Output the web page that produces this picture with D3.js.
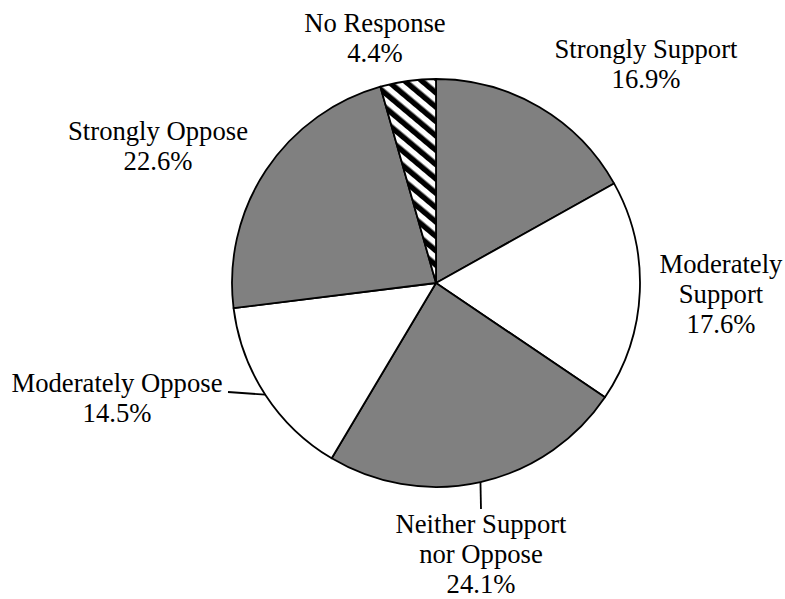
<!DOCTYPE html>
<html>
<head>
<meta charset="utf-8">
<script src="https://cdn.jsdelivr.net/npm/d3@7"></script>
<style>
  html, body { margin: 0; padding: 0; background: #ffffff; }
</style>
</head>
<body>
<svg id="chart" width="785" height="599"></svg>
<script>
// Survey responses, clockwise from 12 o'clock
const categories = ["Strongly Support", "Moderately Support", "Neither Support nor Oppose",
                    "Moderately Oppose", "Strongly Oppose", "No Response"];
const shares = [16.9, 17.6, 24.1, 14.5, 22.6, 4.4];
const labelLines = [["Strongly Support"], ["Moderately", "Support"], ["Neither Support", "nor Oppose"],
                    ["Moderately Oppose"], ["Strongly Oppose"], ["No Response"]];

// Slice fills: alternating grey / white, hatched for non-responses
const fills = ["#808080", "#ffffff", "#808080", "#ffffff", "#808080", "url(#hatch)"];

// Label block placement: centre x, first baseline y
const labelPos = [[646, 58], [721, 273], [481, 533], [117, 392], [158, 140], [375, 32]];
// Leader line ends (null = no leader)
const leaderEnd = [null, null, [481, 509], [228, 392], null, null];

const cx = 436, cy = 283, radius = 204, lineGap = 30;
const fontFamily = "'Liberation Serif', 'Times New Roman', 'DejaVu Serif', serif";

const svg = d3.select("#chart");

const defs = svg.append("defs");
const pat = defs.append("pattern")
  .attr("id", "hatch")
  .attr("patternUnits", "userSpaceOnUse")
  .attr("width", 11).attr("height", 11)
  .attr("patternTransform", "rotate(-50)");
pat.append("rect").attr("width", 11).attr("height", 11).attr("fill", "#fff");
pat.append("rect").attr("width", 5.5).attr("height", 11).attr("fill", "#000");

const pie = d3.pie().sort(null).value(d => d)(shares);
const arc = d3.arc().innerRadius(0).outerRadius(radius);

const g = svg.append("g").attr("transform", `translate(${cx},${cy})`);

g.selectAll("path.slice")
  .data(pie)
  .join("path")
  .attr("class", "slice")
  .attr("d", arc)
  .attr("fill", (d, i) => fills[i])
  .attr("stroke", "#000")
  .attr("stroke-width", 1.8)
  .attr("stroke-linejoin", "round");

// Leader lines from the slice's mid-angle on the rim to the label
const edgeArc = d3.arc().innerRadius(radius).outerRadius(radius);
pie.forEach((d, i) => {
  if (!leaderEnd[i]) return;
  const [ex, ey] = edgeArc.centroid(d);
  svg.append("line")
    .attr("x1", cx + ex).attr("y1", cy + ey)
    .attr("x2", leaderEnd[i][0]).attr("y2", leaderEnd[i][1])
    .attr("stroke", "#000").attr("stroke-width", 1.8);
});

// Category name lines followed by the share
const fmt = d3.format(".1f");
labelLines.forEach((lines, i) => {
  const t = svg.append("text")
    .attr("x", labelPos[i][0])
    .attr("y", labelPos[i][1])
    .attr("text-anchor", "middle")
    .attr("font-family", fontFamily)
    .attr("font-size", 26.67)
    .attr("fill", "#000");
  lines.concat([fmt(shares[i]) + "%"]).forEach((s, k) => {
    t.append("tspan")
      .attr("x", labelPos[i][0])
      .attr("dy", k === 0 ? 0 : lineGap)
      .text(s);
  });
});
</script>
</body>
</html>
